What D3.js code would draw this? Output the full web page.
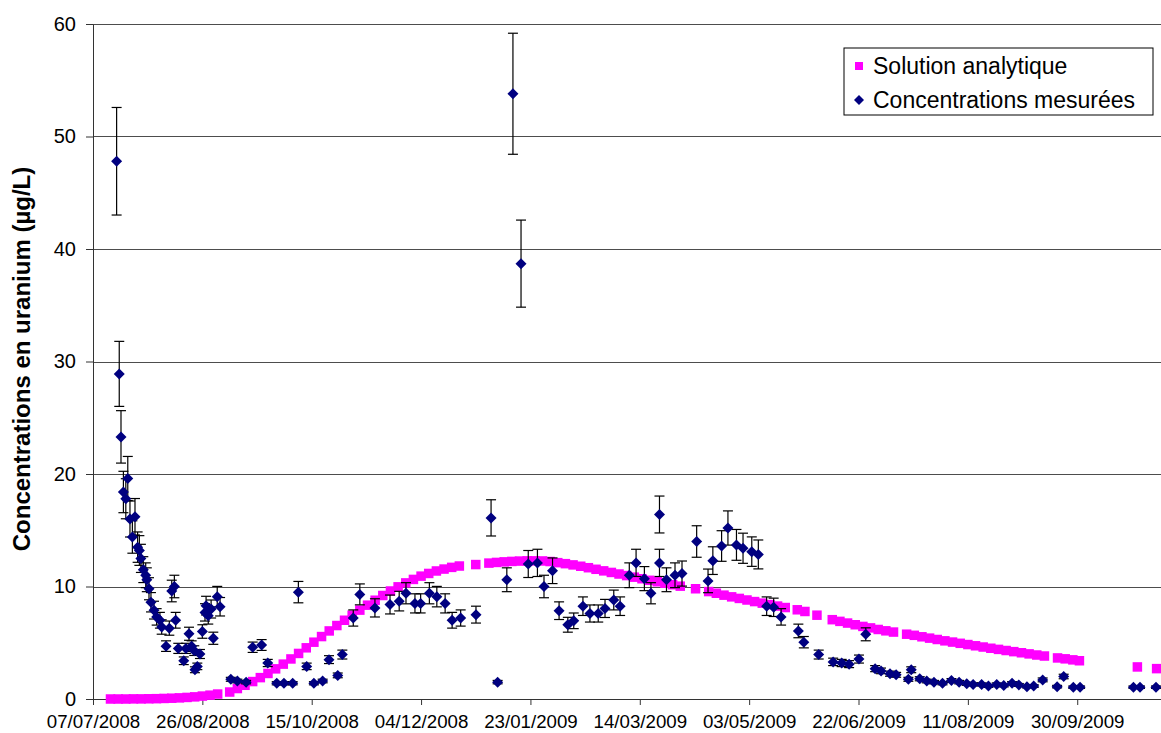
<!DOCTYPE html>
<html>
<head>
<meta charset="utf-8">
<script src="https://cdn.jsdelivr.net/npm/d3@7"></script>
<style>
  body { margin: 0; background: #fff; }
  svg { display: block; font-family: Arial, "Liberation Sans", sans-serif; }
</style>
</head>
<body>
<svg id="chart"></svg>
<script>
// Chart data (days counted from 07/07/2008)
const startDate = new Date(2008, 6, 7);

// Concentrations mesurées
const measDays = [10.8, 12.0, 12.8, 13.9, 15.0, 15.9, 16.9, 18.0, 19.2, 20.4, 21.2, 21.9, 23.0, 24.1, 24.6,
  25.6, 26.5, 27.9, 29.1, 30.6, 31.4, 33.4, 34.9, 36.0, 37.2, 37.8, 39.0, 41.5, 42.5, 43.9, 45.1, 46.3,
  46.6, 47.7, 48.9, 50.0, 51.2, 51.7, 52.7, 54.0, 55.0, 56.8, 58.1,
  63.0, 66.0, 70.0, 73.0, 77.1, 79.9, 84.0, 87.3, 91.3, 93.9, 97.7, 101.0, 105.0, 107.9, 111.9, 114.0,
  119.0, 122.0, 128.9, 135.8, 140.0, 143.1, 147.2, 149.8, 153.8, 157.2, 161.0, 164.2, 168.1, 175.1,
  182.0, 185.0, 189.2, 192.0, 195.7, 199.0, 203.2, 206.2, 210.1, 213.1, 217.1, 219.8, 224.0, 227.2,
  231.0, 234.1, 238.1, 241.0, 245.2, 248.3, 252.1, 255.1, 259.0, 259.0, 262.2, 266.1, 269.3, 276.0,
  281.2, 283.4, 287.4, 290.3, 294.2, 297.2, 301.2, 304.2, 308.0, 311.2, 314.6, 322.5, 325.0, 331.8,
  338.4, 342.3, 345.7, 350.2, 353.3, 357.6, 360.3, 364.4, 367.2, 372.8, 374.1, 378.0, 381.2, 384.5,
  388.4, 392.5, 396.0, 399.5, 402.4, 406.3, 409.4, 413.2, 416.4, 420.2, 423.3, 427.0, 430.1, 434.2,
  440.8, 443.8, 448.2, 451.3, 475.7, 478.7, 486.0];
const measValues = [47.8, 28.9, 23.3, 18.4, 17.8, 19.6, 16.0, 14.4, 16.2, 13.5, 13.2, 12.5, 11.5, 11.0, 10.6,
  9.8, 8.6, 7.9, 7.3, 7.0, 6.4, 4.7, 6.3, 9.6, 10.0, 7.0, 4.5, 3.4, 4.5, 5.8, 4.7, 4.3,
  2.6, 2.9, 4.0, 6.0, 7.7, 8.3, 7.4, 8.0, 5.4, 9.1, 8.2,
  1.75, 1.6, 1.5, 4.6, 4.8, 3.2, 1.4, 1.4, 1.4, 9.5, 2.9, 1.4, 1.6, 3.5, 2.1, 3.95,
  7.2, 9.3, 8.1, 8.4, 8.7, 9.4, 8.5, 8.5, 9.4, 9.1, 8.5, 7.0, 7.2, 7.5,
  16.1, 1.5, 10.6, 53.8, 38.7, 12.0, 12.1, 10.0, 11.4, 7.85, 6.6, 6.95, 8.25, 7.6,
  7.6, 8.05, 8.8, 8.25, 11.0, 12.1, 10.7, 9.4, 16.4, 12.1, 10.6, 11.0, 11.15, 14.0,
  10.5, 12.3, 13.6, 15.2, 13.7, 13.4, 13.1, 12.85, 8.25, 8.15, 7.3, 6.05, 5.05, 3.95,
  3.3, 3.2, 3.1, 3.55, 5.75, 2.7, 2.5, 2.25, 2.15, 1.75, 2.6, 1.8, 1.6, 1.5,
  1.4, 1.65, 1.5, 1.35, 1.3, 1.3, 1.15, 1.3, 1.2, 1.4, 1.25, 1.1, 1.15, 1.7,
  1.1, 2.0, 1.05, 1.05, 1.05, 1.05, 1.05];
const errorPct = 0.10; // barres d'erreur : 10 %

// Solution analytique
const anaDays = [8, 11.5, 15, 18.5, 22, 25.5, 29, 32.5, 36, 39.5, 43, 46.5, 50, 53.5, 57,
  62.5, 66, 69.5, 73, 76.5, 80, 83.5, 87, 90.5, 94, 97.5, 101, 104.5, 108, 111.5, 115, 118.5, 122,
  125.5, 129, 132.5, 136, 139.5, 143, 146.5, 150, 153.5, 157, 160.5, 164, 167.5,
  175,
  181, 184.5, 188, 191.5, 195, 198.5, 202, 205.5, 209, 212.5, 216, 219.5, 223, 226.5, 230, 233.5,
  237, 240.5, 244, 247.5, 251, 254.5, 258, 261.5, 265, 268.5,
  275.5,
  281.5, 285, 288.5, 292, 295.5, 299, 302.5, 306, 309.5, 313, 316.5,
  322, 325.5,
  331,
  338, 341.5, 345, 348.5, 352, 355.5, 359, 362.5, 366,
  372, 375.5, 379, 382.5, 386, 389.5, 393, 396.5, 400, 403.5, 407, 410.5, 414, 417.5, 421, 424.5,
  428, 431.5, 435,
  441, 444.5, 448, 451,
  477.5, 486.3];
const anaValues = [0, 0, 0, 0.01, 0.01, 0.02, 0.03, 0.05, 0.07, 0.1, 0.14, 0.19, 0.26, 0.34, 0.44,
  0.62, 0.93, 1.22, 1.55, 1.9, 2.27, 2.68, 3.1, 3.56, 4.05, 4.55, 5.05, 5.55, 6.05, 6.53, 7.0, 7.45, 7.9,
  8.34, 8.78, 9.2, 9.6, 9.97, 10.32, 10.63, 10.92, 11.16, 11.38, 11.55, 11.7, 11.82,
  11.95,
  12.08, 12.14, 12.19, 12.23, 12.26, 12.28, 12.28, 12.27, 12.22, 12.12, 12.03, 11.92, 11.8, 11.67,
  11.53, 11.39, 11.25, 11.11, 10.97, 10.83, 10.69, 10.55, 10.42, 10.29, 10.16, 10.03,
  9.8,
  9.55, 9.4, 9.23, 9.08, 8.94, 8.8, 8.66, 8.52, 8.39, 8.26, 8.13,
  7.93, 7.78,
  7.45,
  7.05, 6.9, 6.75, 6.6, 6.45, 6.32, 6.18, 6.06, 5.95,
  5.76, 5.66, 5.53, 5.41, 5.29, 5.17, 5.06, 4.95, 4.84, 4.73, 4.62, 4.51, 4.41, 4.31, 4.21, 4.11,
  4.01, 3.91, 3.82,
  3.65, 3.57, 3.48, 3.4,
  2.85, 2.7];

const xTickDays = [0, 50, 100, 150, 200, 250, 300, 350, 400, 450];
const yTicks = [0, 10, 20, 30, 40, 50, 60];
const seriesNames = ['Solution analytique', 'Concentrations mesurées'];

const W = 1161, H = 733;
const margin = { top: 24, right: 0, bottom: 34, left: 93 };
const plotW = W - margin.left - margin.right;
const plotH = H - margin.top - margin.bottom;

const svg = d3.select('#chart').attr('width', W).attr('height', H);
svg.append('rect').attr('width', W).attr('height', H).attr('fill', '#fff');

const g = svg.append('g').attr('transform', `translate(${margin.left},${margin.top})`);

const x = d3.scaleLinear().domain([0, 488.3]).range([0, plotW]);
const y = d3.scaleLinear().domain([0, 60]).range([plotH, 0]);
const fmt = d3.timeFormat('%d/%m/%Y');

// gridlines
g.append('g')
  .selectAll('line')
  .data(yTicks.filter(d => d > 0))
  .join('line')
  .attr('x1', 0).attr('x2', plotW)
  .attr('y1', d => Math.round(y(d)) + 0.5).attr('y2', d => Math.round(y(d)) + 0.5)
  .attr('stroke', '#4d4d4d').attr('stroke-width', 1);

// x axis
const xAxis = g.append('g')
  .attr('transform', `translate(0,${plotH})`)
  .call(d3.axisBottom(x).tickValues(xTickDays).tickSize(6).tickSizeOuter(0).tickPadding(10)
    .tickFormat(d => fmt(d3.timeDay.offset(startDate, d))));
xAxis.selectAll('text').style('font-size', '18.7px').attr('fill', '#000');

// y axis
const yAxis = g.append('g')
  .call(d3.axisLeft(y).tickValues(yTicks).tickSize(7).tickSizeOuter(0).tickPadding(10));
yAxis.selectAll('text').style('font-size', '20px').attr('fill', '#000');
[xAxis, yAxis].forEach(a => {
  a.select('.domain').attr('stroke', '#333');
  a.selectAll('.tick line').attr('stroke', '#333');
});

// analytic solution (magenta squares)
const sq = 9.5;
g.append('g')
  .selectAll('rect')
  .data(anaDays.map((d, i) => ({ day: d, v: anaValues[i] })))
  .join('rect')
  .attr('x', d => x(d.day) - sq / 2)
  .attr('y', d => y(d.v) - sq / 2)
  .attr('width', sq).attr('height', sq)
  .attr('fill', '#ff00ff');

const meas = measDays.map((d, i) => ({ day: d, v: measValues[i] }));

// error bars
const eb = g.append('g').attr('stroke', '#000').attr('stroke-width', 1.2);
meas.forEach(d => {
  const cx = x(d.day), y0 = y(d.v * (1 - errorPct)), y1 = y(d.v * (1 + errorPct));
  eb.append('line').attr('x1', cx).attr('x2', cx).attr('y1', y0).attr('y2', y1);
  eb.append('line').attr('x1', cx - 5).attr('x2', cx + 5).attr('y1', y0).attr('y2', y0);
  eb.append('line').attr('x1', cx - 5).attr('x2', cx + 5).attr('y1', y1).attr('y2', y1);
});

// measured points (navy diamonds)
const diamond = r => `M0,${-r}L${r},0L0,${r}L${-r},0Z`;
g.append('g')
  .selectAll('path')
  .data(meas)
  .join('path')
  .attr('transform', d => `translate(${x(d.day)},${y(d.v)})`)
  .attr('d', diamond(5.5))
  .attr('fill', '#000080');

// y axis title
svg.append('text')
  .attr('transform', `translate(30,${(165 + 553) / 2}) rotate(-90)`)
  .attr('text-anchor', 'middle')
  .style('font-size', '24px').style('font-weight', 'bold')
  .text('Concentrations en uranium (µg/L)');

// legend
const lg = svg.append('g').attr('transform', 'translate(844,48)');
lg.append('rect').attr('width', 309).attr('height', 67)
  .attr('fill', '#fff').attr('stroke', '#000').attr('stroke-width', 1);
lg.append('rect').attr('x', 11).attr('y', 14).attr('width', 8).attr('height', 8).attr('fill', '#ff00ff');
lg.append('path').attr('transform', 'translate(15,52)').attr('d', diamond(5)).attr('fill', '#000080');
lg.selectAll('text.item')
  .data(seriesNames)
  .join('text')
  .attr('class', 'item')
  .attr('x', 29)
  .attr('y', (d, i) => 26 + i * 33.5)
  .style('font-size', '23px')
  .text(d => d);
</script>
</body>
</html>
